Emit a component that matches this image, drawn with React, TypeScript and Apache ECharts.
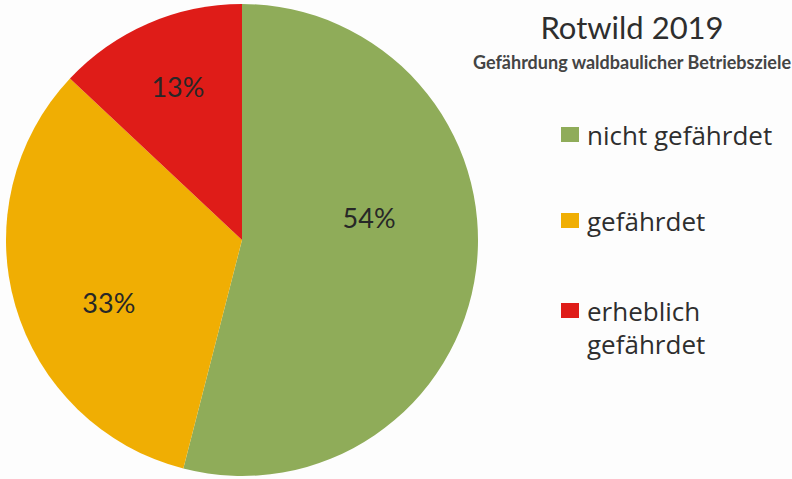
import React, { useEffect, useRef } from "react";
import * as echarts from "echarts";

const categories = ["nicht gefährdet", "gefährdet", "erheblich gefährdet"];
const shares = [54, 33, 13];
const colors = ["#8fac59", "#f0ae03", "#df1c18"];
const titleText = "Rotwild 2019";
const subtitleText = "Gefährdung waldbaulicher Betriebsziele";

const labelOffsets = [
  [7, -38],
  [-17, 29],
  [-16, -42],
];

export default function App() {
  const ref = useRef<HTMLDivElement>(null);
  useEffect(() => {
    if (!ref.current) return;
    const chart = echarts.init(ref.current, null, { renderer: "svg" });
    const font = "Lato, 'Open Sans', sans-serif";
    const legendText = {
      fontFamily: "'Open Sans', Lato, sans-serif",
      fontSize: 26,
      color: "#2e2e2e",
      lineHeight: 33,
      padding: [0, 0, 0, 3],
    };
    chart.setOption({
      animation: false,
      backgroundColor: "#fdfdfd",
      title: {
        text: titleText,
        subtext: subtitleText,
        left: 627,
        top: 6,
        textAlign: "center",
        itemGap: 11,
        textStyle: { fontFamily: font, fontSize: 31, fontWeight: "normal", color: "#2e2e2e" },
        subtextStyle: { fontFamily: font, fontSize: 18, fontWeight: "bold", color: "#444" },
      },
      legend: [
        {
          orient: "vertical",
          left: 561,
          top: 118,
          padding: 0,
          itemWidth: 18,
          itemHeight: 15,
          itemGap: 53,
          icon: "rect",
          textStyle: legendText,
          data: categories.slice(0, 2),
        },
        {
          orient: "vertical",
          left: 561,
          top: 261,
          padding: 0,
          itemWidth: 18,
          itemHeight: 15,
          icon: "rect",
          formatter: (n: string) => "\n" + n.replace("erheblich ", "erheblich\n"),
          textStyle: legendText,
          data: categories.slice(2),
        },
      ],
      series: [
        {
          type: "pie",
          center: [242, 240],
          radius: 236,
          startAngle: 90,
          clockwise: true,
          silent: true,
          itemStyle: { borderWidth: 0 },
          label: {
            show: true,
            position: "inside",
            formatter: "{c}%",
            fontFamily: font,
            fontSize: 27,
            color: "#272727",
          },
          labelLine: { show: false },
          data: categories.map((name, i) => ({
            name,
            value: shares[i],
            itemStyle: { color: colors[i] },
            label: { offset: labelOffsets[i] },
          })),
        },
      ],
    });
    return () => chart.dispose();
  }, []);
  return (
    <div
      ref={ref}
      style={{ position: "fixed", left: 0, top: 0, width: 792, height: 479 }}
    />
  );
}
